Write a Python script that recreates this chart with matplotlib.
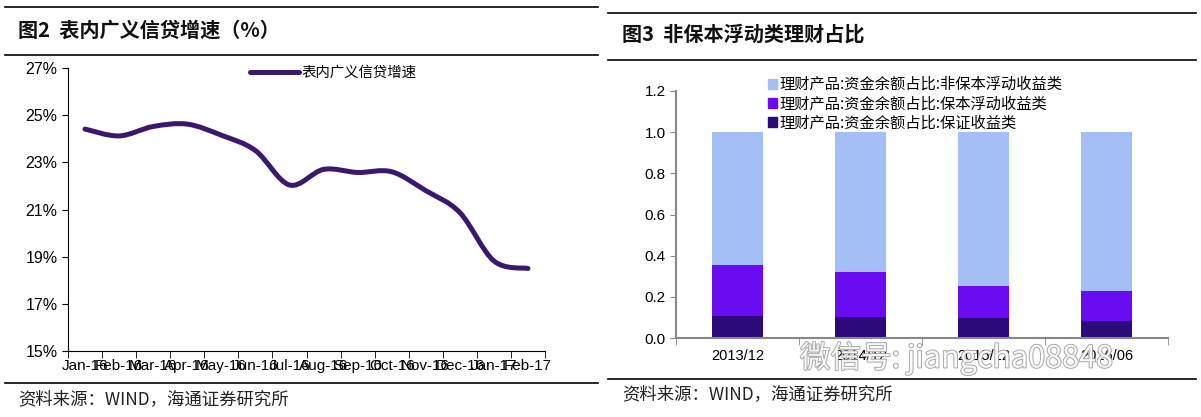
import matplotlib
matplotlib.use("Agg")
import matplotlib.pyplot as plt
import matplotlib.patheffects as pe
from matplotlib.path import Path
from matplotlib.patches import PathPatch, Patch
from matplotlib.lines import Line2D
import numpy as np

plt.rcParams['font.family'] = ['Liberation Sans', 'Noto Sans CJK SC', 'DejaVu Sans']
cjk = ['Noto Sans CJK SC', 'DejaVu Sans']

# Left chart data: 表内广义信贷增速 (%)
months = ['Jan-16', 'Feb-16', 'Mar-16', 'Apr-16', 'May-16', 'Jun-16', 'Jul-16',
          'Aug-16', 'Sep-16', 'Oct-16', 'Nov-16', 'Dec-16', 'Jan-17', 'Feb-17']
credit_growth = [24.41, 24.12, 24.52, 24.62, 24.15, 23.5, 22.04,
                 22.7, 22.57, 22.6, 21.8, 20.87, 18.82, 18.5]

# Right chart data: 理财产品 资金余额占比
periods = ['2013/12', '2014/12', '2015/12', '2016/06']
guaranteed = [0.107, 0.104, 0.099, 0.083]        # 保证收益类
principal_float = [0.248, 0.216, 0.155, 0.144]   # 保本浮动收益类
non_principal = [0.645, 0.680, 0.746, 0.773]     # 非保本浮动收益类

fig = plt.figure(figsize=(12.01, 4.17), dpi=100)

# frame lines and texts
def hline(y, x0, x1):
    fig.add_artist(Line2D([x0 / 1201, x1 / 1201], [1 - y / 417, 1 - y / 417],
                          color='black', lw=1.2))

hline(7, 5, 598)
hline(55, 5, 598)
hline(383, 5, 598)
hline(13, 608, 1196)
hline(60, 608, 1196)
hline(379, 608, 1196)

fig.text(18 / 1201, 1 - 30 / 417, '图2  表内广义信贷增速（%）', family=cjk,
         fontsize=14.5, fontweight='bold', va='center', color='#111111')
fig.text(622 / 1201, 1 - 34 / 417, '图3  非保本浮动类理财占比', family=cjk,
         fontsize=14.5, fontweight='bold', va='center', color='#111111')
fig.text(18 / 1201, 1 - 399 / 417, '资料来源：WIND，海通证券研究所', family=cjk,
         fontsize=12.5, va='center', color='#222222')
fig.text(622 / 1201, 1 - 394 / 417, '资料来源：WIND，海通证券研究所', family=cjk,
         fontsize=12.5, va='center', color='#222222')

# ---- left chart: smoothed line ----
ax1 = fig.add_axes([68 / 1201, 1 - 351 / 417, 477 / 1201, 283 / 417])
x = np.arange(len(months))
y = np.array(credit_growth)
pts = np.column_stack([x, y])
verts = [pts[0]]
codes = [Path.MOVETO]
for i in range(len(pts) - 1):
    p0 = pts[max(i - 1, 0)]
    p1 = pts[i]
    p2 = pts[i + 1]
    p3 = pts[min(i + 2, len(pts) - 1)]
    verts += [p1 + (p2 - p0) / 6, p2 - (p3 - p1) / 6, p2]
    codes += [Path.CURVE4] * 3
line_color = '#3a1870'
ax1.add_patch(PathPatch(Path(verts, codes), fill=False, edgecolor=line_color,
                        lw=3.6, capstyle='round', joinstyle='round'))
ax1.set_xlim(-0.5, len(months) - 0.5)
ax1.set_ylim(15, 27)
ax1.set_yticks(range(15, 28, 2))
ax1.set_yticklabels(['%d%%' % v for v in range(15, 28, 2)])
ax1.set_xticks(x)
ax1.set_xticklabels(months)
ax1.set_xticks(np.arange(-0.5, len(months), 1), minor=True)
ax1.tick_params(axis='x', which='major', length=0, labelsize=11, pad=6)
ax1.tick_params(axis='x', which='minor', length=5, direction='out')
ax1.tick_params(axis='y', length=4, direction='out', labelsize=11.5)
for s in ['top', 'right']:
    ax1.spines[s].set_visible(False)
ax1.legend(handles=[Line2D([], [], color=line_color, lw=3.6, solid_capstyle='round')],
           labels=['表内广义信贷增速'], prop={'family': cjk, 'size': 10.4},
           loc='upper left', bbox_to_anchor=(244 / 1201, 1 - 60 / 417),
           bbox_transform=fig.transFigure, frameon=False, handlelength=3.4,
           handletextpad=0.15, borderaxespad=0)

# ---- right chart: stacked bars ----
ax2 = fig.add_axes([676 / 1201, 1 - 338 / 417, 492 / 1201, 247 / 417])
xb = np.arange(len(periods))
w = 0.41
c_dark = '#2b0a7a'
c_purple = '#6a0cf2'
c_light = '#a4bff6'
b1 = np.array(guaranteed)
b2 = b1 + np.array(principal_float)
ax2.bar(xb, guaranteed, w, color=c_dark)
ax2.bar(xb, principal_float, w, bottom=b1, color=c_purple)
ax2.bar(xb, non_principal, w, bottom=b2, color=c_light)
ax2.set_xlim(-0.5, len(periods) - 0.5)
ax2.set_ylim(0, 1.2)
ax2.set_yticks(np.arange(0, 1.21, 0.2))
ax2.set_yticklabels(['%.1f' % v for v in np.arange(0, 1.21, 0.2)])
ax2.set_xticks(xb)
ax2.set_xticklabels(periods)
ax2.set_xticks(np.arange(-0.5, len(periods), 1), minor=True)
ax2.tick_params(axis='x', which='major', length=0, labelsize=10.5, pad=8)
ax2.tick_params(axis='x', which='minor', length=5, direction='out', color='#888888')
ax2.tick_params(axis='y', length=4, direction='out', labelsize=11, color='#888888')
for s in ['top', 'right']:
    ax2.spines[s].set_visible(False)
for s in ['left', 'bottom']:
    ax2.spines[s].set_color('#888888')
    ax2.spines[s].set_linewidth(1.5)
ax2.legend(handles=[Patch(color=c_light), Patch(color=c_purple), Patch(color=c_dark)],
           labels=['理财产品:资金余额占比:非保本浮动收益类',
                   '理财产品:资金余额占比:保本浮动收益类',
                   '理财产品:资金余额占比:保证收益类'],
           prop={'family': cjk, 'size': 11}, loc='upper left',
           bbox_to_anchor=(762 / 1201, 1 - 70 / 417), bbox_transform=fig.transFigure,
           frameon=False, handlelength=0.6, handleheight=0.6, handletextpad=0.15,
           labelspacing=0.15, borderaxespad=0)

# watermark
fig.text(800 / 1201, 1 - 358 / 417, '微信号: jiangcha08848', family=cjk, fontsize=22,
         va='center', color='white', alpha=0.9,
         path_effects=[pe.withStroke(linewidth=1.3, foreground='#9a9a9a')])

fig.savefig('out.png', dpi=100)
